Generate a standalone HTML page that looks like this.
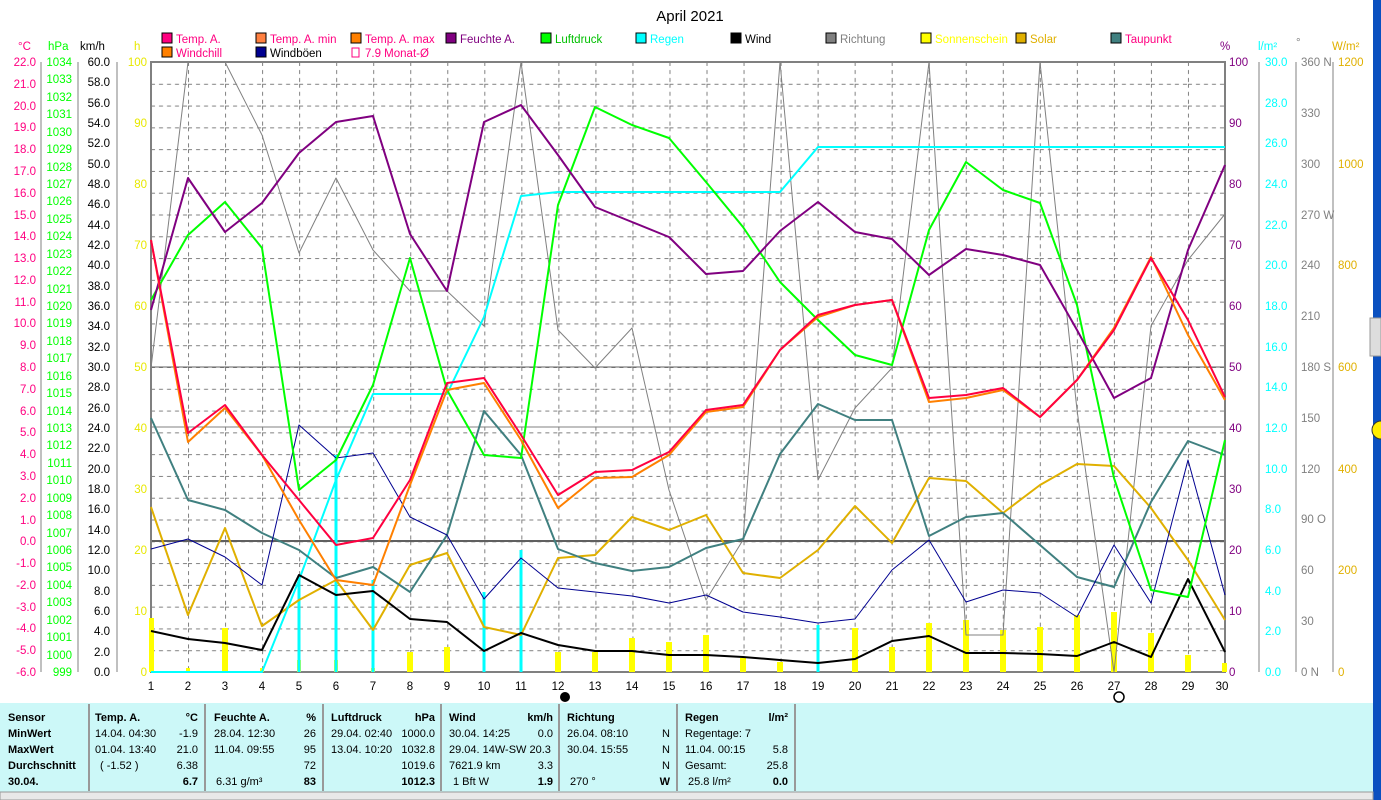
<!DOCTYPE html>
<html><head><meta charset="utf-8"><style>
body{margin:0;width:1381px;height:800px;overflow:hidden;background:#fff;font-family:"Liberation Sans",sans-serif}
svg{position:absolute;left:0;top:0}
</style></head><body>
<svg width="1381" height="800" viewBox="0 0 1381 800" font-family="Liberation Sans, sans-serif">
<defs>
<pattern id="g" patternUnits="userSpaceOnUse" x="151" y="62" width="37.034" height="21.786">
<line x1="0" y1="0.5" x2="37.034" y2="0.5" stroke="#808080" stroke-dasharray="4,4"/>
<line x1="0.5" y1="0" x2="0.5" y2="21.786" stroke="#808080" stroke-dasharray="4,4"/>
</pattern>
</defs>
<rect x="1373" y="0" width="8" height="800" fill="#0a50c0"/>
<rect x="1370" y="318" width="11" height="38" fill="#ddd" stroke="#999"/>
<circle cx="1381" cy="430" r="9" fill="#ffee00" stroke="#333"/>
<text x="690" y="21" font-size="15" text-anchor="middle">April 2021</text>
<!-- legend -->
<g font-size="11.5">
<rect x="162" y="33" width="10" height="10" fill="#ff0080" stroke="#000"/><text x="176" y="43" fill="#ff0080">Temp. A.</text>
<rect x="256" y="33" width="10" height="10" fill="#ff8040" stroke="#000"/><text x="270" y="43" fill="#ff0080">Temp. A. min</text>
<rect x="351" y="33" width="10" height="10" fill="#ff8000" stroke="#000"/><text x="365" y="43" fill="#ff0080">Temp. A. max</text>
<rect x="446" y="33" width="10" height="10" fill="#800080" stroke="#000"/><text x="460" y="43" fill="#800080">Feuchte A.</text>
<rect x="541" y="33" width="10" height="10" fill="#00ff00" stroke="#000"/><text x="555" y="43" fill="#00c000">Luftdruck</text>
<rect x="636" y="33" width="10" height="10" fill="#00ffff" stroke="#000"/><text x="650" y="43" fill="#00ffff">Regen</text>
<rect x="731" y="33" width="10" height="10" fill="#000" stroke="#000"/><text x="745" y="43" fill="#000">Wind</text>
<rect x="826" y="33" width="10" height="10" fill="#808080" stroke="#000"/><text x="840" y="43" fill="#808080">Richtung</text>
<rect x="921" y="33" width="10" height="10" fill="#ffff00" stroke="#000"/><text x="935" y="43" fill="#ffff00">Sonnenschein</text>
<rect x="1016" y="33" width="10" height="10" fill="#e0b000" stroke="#000"/><text x="1030" y="43" fill="#e0b000">Solar</text>
<rect x="1111" y="33" width="10" height="10" fill="#408080" stroke="#000"/><text x="1125" y="43" fill="#ff0080">Taupunkt</text>
<rect x="162" y="47" width="10" height="10" fill="#ff8000" stroke="#000"/><text x="176" y="57" fill="#ff0080">Windchill</text>
<rect x="256" y="47" width="10" height="10" fill="#000090" stroke="#000"/><text x="270" y="57" fill="#000">Windböen</text>
<rect x="352" y="48" width="7" height="9" fill="none" stroke="#ff0080"/><text x="365" y="57" fill="#ff0080">7.9 Monat-Ø</text>
</g>
<!-- units -->
<g font-size="11.5">
<text x="18" y="50" fill="#ff0080">°C</text><text x="48" y="50" fill="#00ff00">hPa</text><text x="80" y="50" fill="#000">km/h</text><text x="134" y="50" fill="#e8e800">h</text>
<text x="1220" y="50" fill="#800080">%</text><text x="1258" y="50" fill="#00ffff">l/m²</text><text x="1296" y="46" fill="#808080">°</text><text x="1332" y="50" fill="#e0b000">W/m²</text>
</g>
<!-- plot grid -->
<rect x="151" y="62" width="1074" height="610" fill="url(#g)"/>
<line x1="151" y1="541" x2="1225" y2="541" stroke="#606060" stroke-width="2"/>
<line x1="151" y1="367" x2="1225" y2="367" stroke="#606060"/>
<line x1="151" y1="427" x2="1225" y2="427" stroke="#808080"/>
<rect x="151" y="62" width="1074" height="610" fill="none" stroke="#808080" stroke-width="2"/>
<!-- axes lines -->
<g stroke="#808080" fill="none">
<line x1="41" y1="62" x2="41" y2="672"/><line x1="78" y1="62" x2="78" y2="672"/><line x1="117" y1="62" x2="117" y2="672"/>
<line x1="1259" y1="62" x2="1259" y2="672"/><line x1="1296" y1="62" x2="1296" y2="672"/><line x1="1333" y1="62" x2="1333" y2="672"/>
</g>
<!-- °C labels -->
<g font-size="11.5" fill="#ff0080" text-anchor="end">
<text x="36" y="66">22.0</text><text x="36" y="88">21.0</text><text x="36" y="110">20.0</text><text x="36" y="131">19.0</text><text x="36" y="153">18.0</text><text x="36" y="175">17.0</text><text x="36" y="197">16.0</text><text x="36" y="219">15.0</text><text x="36" y="240">14.0</text><text x="36" y="262">13.0</text><text x="36" y="284">12.0</text><text x="36" y="306">11.0</text><text x="36" y="327">10.0</text><text x="36" y="349">9.0</text><text x="36" y="371">8.0</text><text x="36" y="393">7.0</text><text x="36" y="415">6.0</text><text x="36" y="436">5.0</text><text x="36" y="458">4.0</text><text x="36" y="480">3.0</text><text x="36" y="502">2.0</text><text x="36" y="524">1.0</text><text x="36" y="545">0.0</text><text x="36" y="567">-1.0</text><text x="36" y="589">-2.0</text><text x="36" y="611">-3.0</text><text x="36" y="632">-4.0</text><text x="36" y="654">-5.0</text><text x="36" y="676">-6.0</text>
</g>
<!-- hPa labels -->
<g font-size="11.5" fill="#00ff00" text-anchor="end">
<text x="72" y="66">1034</text><text x="72" y="83">1033</text><text x="72" y="101">1032</text><text x="72" y="118">1031</text><text x="72" y="136">1030</text><text x="72" y="153">1029</text><text x="72" y="171">1028</text><text x="72" y="188">1027</text><text x="72" y="205">1026</text><text x="72" y="223">1025</text><text x="72" y="240">1024</text><text x="72" y="258">1023</text><text x="72" y="275">1022</text><text x="72" y="293">1021</text><text x="72" y="310">1020</text><text x="72" y="327">1019</text><text x="72" y="345">1018</text><text x="72" y="362">1017</text><text x="72" y="380">1016</text><text x="72" y="397">1015</text><text x="72" y="415">1014</text><text x="72" y="432">1013</text><text x="72" y="449">1012</text><text x="72" y="467">1011</text><text x="72" y="484">1010</text><text x="72" y="502">1009</text><text x="72" y="519">1008</text><text x="72" y="537">1007</text><text x="72" y="554">1006</text><text x="72" y="571">1005</text><text x="72" y="589">1004</text><text x="72" y="606">1003</text><text x="72" y="624">1002</text><text x="72" y="641">1001</text><text x="72" y="659">1000</text><text x="72" y="676">999</text>
</g>
<!-- km/h labels -->
<g font-size="11.5" fill="#000" text-anchor="end">
<text x="110" y="66">60.0</text><text x="110" y="86">58.0</text><text x="110" y="107">56.0</text><text x="110" y="127">54.0</text><text x="110" y="147">52.0</text><text x="110" y="168">50.0</text><text x="110" y="188">48.0</text><text x="110" y="208">46.0</text><text x="110" y="229">44.0</text><text x="110" y="249">42.0</text><text x="110" y="269">40.0</text><text x="110" y="290">38.0</text><text x="110" y="310">36.0</text><text x="110" y="330">34.0</text><text x="110" y="351">32.0</text><text x="110" y="371">30.0</text><text x="110" y="391">28.0</text><text x="110" y="412">26.0</text><text x="110" y="432">24.0</text><text x="110" y="452">22.0</text><text x="110" y="473">20.0</text><text x="110" y="493">18.0</text><text x="110" y="513">16.0</text><text x="110" y="534">14.0</text><text x="110" y="554">12.0</text><text x="110" y="574">10.0</text><text x="110" y="595">8.0</text><text x="110" y="615">6.0</text><text x="110" y="635">4.0</text><text x="110" y="656">2.0</text><text x="110" y="676">0.0</text>
</g>
<g font-size="11.5" fill="#e8e800" text-anchor="end">
<text x="147" y="66">100</text><text x="147" y="127">90</text><text x="147" y="188">80</text><text x="147" y="249">70</text><text x="147" y="310">60</text><text x="147" y="371">50</text><text x="147" y="432">40</text><text x="147" y="493">30</text><text x="147" y="554">20</text><text x="147" y="615">10</text><text x="147" y="676">0</text>
</g>
<!-- right labels -->
<g font-size="11.5" fill="#800080">
<text x="1229" y="66">100</text><text x="1229" y="127">90</text><text x="1229" y="188">80</text><text x="1229" y="249">70</text><text x="1229" y="310">60</text><text x="1229" y="371">50</text><text x="1229" y="432">40</text><text x="1229" y="493">30</text><text x="1229" y="554">20</text><text x="1229" y="615">10</text><text x="1229" y="676">0</text>
</g>
<g font-size="11.5" fill="#00ffff">
<text x="1265" y="66">30.0</text><text x="1265" y="107">28.0</text><text x="1265" y="147">26.0</text><text x="1265" y="188">24.0</text><text x="1265" y="229">22.0</text><text x="1265" y="269">20.0</text><text x="1265" y="310">18.0</text><text x="1265" y="351">16.0</text><text x="1265" y="391">14.0</text><text x="1265" y="432">12.0</text><text x="1265" y="473">10.0</text><text x="1265" y="513">8.0</text><text x="1265" y="554">6.0</text><text x="1265" y="595">4.0</text><text x="1265" y="635">2.0</text><text x="1265" y="676">0.0</text>
</g>
<g font-size="11.5" fill="#808080">
<text x="1301" y="66">360 N</text><text x="1301" y="117">330</text><text x="1301" y="168">300</text><text x="1301" y="219">270 W</text><text x="1301" y="269">240</text><text x="1301" y="320">210</text><text x="1301" y="371">180 S</text><text x="1301" y="422">150</text><text x="1301" y="473">120</text><text x="1301" y="523">90  O</text><text x="1301" y="574">60</text><text x="1301" y="625">30</text><text x="1301" y="676">0   N</text>
</g>
<g font-size="11.5" fill="#e0b000">
<text x="1338" y="66">1200</text><text x="1338" y="168">1000</text><text x="1338" y="269">800</text><text x="1338" y="371">600</text><text x="1338" y="473">400</text><text x="1338" y="574">200</text><text x="1338" y="676">0</text>
</g>
<!-- sunshine bars -->
<g fill="#ffff00">
<rect x="149" y="618" width="5" height="54"/><rect x="186" y="668" width="4" height="4"/><rect x="222" y="628" width="6" height="44"/><rect x="260" y="668" width="4" height="4"/><rect x="297" y="660" width="4" height="12"/><rect x="334" y="660" width="4" height="12"/><rect x="371" y="668" width="4" height="4"/><rect x="407" y="652" width="6" height="20"/><rect x="444" y="647" width="6" height="25"/><rect x="555" y="652" width="6" height="20"/><rect x="592" y="652" width="6" height="20"/><rect x="629" y="638" width="6" height="34"/><rect x="666" y="642" width="6" height="30"/><rect x="703" y="635" width="6" height="37"/><rect x="740" y="658" width="6" height="14"/><rect x="777" y="662" width="6" height="10"/><rect x="852" y="628" width="6" height="44"/><rect x="889" y="647" width="6" height="25"/><rect x="926" y="623" width="6" height="49"/><rect x="963" y="620" width="6" height="52"/><rect x="1000" y="630" width="6" height="42"/><rect x="1037" y="627" width="6" height="45"/><rect x="1074" y="615" width="6" height="57"/><rect x="1111" y="612" width="6" height="60"/><rect x="1148" y="633" width="6" height="39"/><rect x="1185" y="655" width="6" height="17"/><rect x="1222" y="663" width="5" height="9"/>
</g>
<!-- rain daily bars -->
<g stroke="#00ffff" stroke-width="3">
<line x1="299" y1="672" x2="299" y2="575"/><line x1="336" y1="672" x2="336" y2="455"/><line x1="373" y1="672" x2="373" y2="580"/><line x1="484" y1="672" x2="484" y2="592"/><line x1="521" y1="672" x2="521" y2="550"/><line x1="818" y1="672" x2="818" y2="625"/>
</g>
<g fill="none" stroke-linejoin="round">
<polyline stroke="#808080" stroke-width="1" points="151,368 188,62 225,62 262,135 299,253 336,178 373,250 410,291 447,291 484,326 521,62 558,330 595,368 632,328 669,490 706,600 743,540 780,62 818,480 855,408 892,368 929,62 966,635 1003,635 1040,62 1077,410 1114,672 1151,326 1188,260 1225,214"/>
<polyline stroke="#e0b000" stroke-width="2" points="151,507 188,615 225,528 262,626 299,600 336,580 373,630 410,565 447,553 484,627 521,635 558,558 595,555 632,517 669,530 706,515 743,573 780,578 818,550 855,506 892,543 929,478 966,481 1003,513 1040,485 1077,464 1114,466 1151,508 1188,560 1225,620"/>
<polyline stroke="#00ffff" stroke-width="2" points="151,672 262,672 299,580 336,480 373,394 447,394 484,317 521,196 558,192 780,192 818,147 1225,147"/>
<polyline stroke="#408080" stroke-width="2" points="151,418 188,500 225,510 262,533 299,550 336,578 373,567 410,592 447,535 484,411 521,455 558,549 595,563 632,571 669,567 706,548 743,539 780,454 818,404 855,420 892,420 929,536 966,517 1003,513 1040,545 1077,577 1114,587 1151,502 1188,441 1225,455"/>
<polyline stroke="#000090" stroke-width="1" points="151,549 188,539 225,557 262,585 299,425 336,458 373,453 410,517 447,535 484,599 521,558 558,588 595,592 632,596 669,603 706,595 743,612 780,617 818,623 855,619 892,570 929,540 966,602 1003,590 1040,593 1077,617 1114,545 1151,603 1188,460 1225,595"/>
<polyline stroke="#000" stroke-width="2" points="151,631 188,639 225,643 262,650 299,575 336,595 373,591 410,619 447,622 484,651 521,633 558,645 595,651 632,651 669,655 706,655 743,657 780,660 818,663 855,659 892,641 929,636 966,653 1003,653 1040,654 1077,656 1114,642 1151,657 1188,579 1225,652"/>
<polyline stroke="#00ff00" stroke-width="2" points="151,300 188,235 225,202 262,248 299,490 336,460 373,385 410,258 447,390 484,455 521,458 558,205 595,107 632,125 669,138 706,182 743,227 780,282 818,320 855,355 892,365 929,230 966,162 1003,190 1040,203 1077,305 1114,478 1151,590 1188,597 1225,440"/>
<polyline stroke="#800080" stroke-width="2" points="151,310 188,178 225,232 262,203 299,153 336,122 373,116 410,234 447,291 484,122 521,105 558,155 595,207 632,222 669,237 706,274 743,271 780,231 818,202 855,232 892,239 929,275 966,249 1003,255 1040,265 1077,330 1114,398 1151,378 1188,250 1225,165"/>
<polyline stroke="#ff8000" stroke-width="2" points="151,240 188,442 225,408 262,455 299,520 336,580 373,585 410,485 447,390 484,383 521,440 558,508 595,478 632,477 669,455 706,412 743,407 780,350 818,317 855,305 892,300 929,402 966,398 1003,390 1040,417 1077,380 1114,328 1151,257 1188,335 1225,400"/>
<polyline stroke="#ff0040" stroke-width="2" points="151,240 188,433 225,405 262,455 299,500 336,545 373,538 410,480 447,383 484,378 521,435 558,495 595,472 632,470 669,452 706,410 743,405 780,350 818,315 855,305 892,300 929,398 966,395 1003,388 1040,417 1077,380 1114,330 1151,258 1188,320 1225,397"/>
</g>
<!-- day labels -->
<g font-size="11.5" text-anchor="middle" fill="#000">
<text x="151" y="690">1</text><text x="188" y="690">2</text><text x="225" y="690">3</text><text x="262" y="690">4</text><text x="299" y="690">5</text><text x="336" y="690">6</text><text x="373" y="690">7</text><text x="410" y="690">8</text><text x="447" y="690">9</text><text x="484" y="690">10</text><text x="521" y="690">11</text><text x="558" y="690">12</text><text x="595" y="690">13</text><text x="632" y="690">14</text><text x="669" y="690">15</text><text x="706" y="690">16</text><text x="743" y="690">17</text><text x="780" y="690">18</text><text x="818" y="690">19</text><text x="855" y="690">20</text><text x="892" y="690">21</text><text x="929" y="690">22</text><text x="966" y="690">23</text><text x="1003" y="690">24</text><text x="1040" y="690">25</text><text x="1077" y="690">26</text><text x="1114" y="690">27</text><text x="1151" y="690">28</text><text x="1188" y="690">29</text><text x="1222" y="690">30</text>
</g>
<circle cx="565" cy="697" r="5" fill="#000"/>
<circle cx="1119" cy="697" r="5" fill="none" stroke="#000" stroke-width="1.5"/>
<!-- table -->
<rect x="0" y="703" width="1373" height="89" fill="#ccf8f8"/>
<rect x="0" y="792" width="1373" height="8" fill="#e8e8e8" stroke="#999"/>
<g stroke="#999" stroke-width="2">
<line x1="89" y1="704" x2="89" y2="791"/><line x1="205" y1="704" x2="205" y2="791"/><line x1="323" y1="704" x2="323" y2="791"/><line x1="441" y1="704" x2="441" y2="791"/><line x1="559" y1="704" x2="559" y2="791"/><line x1="677" y1="704" x2="677" y2="791"/><line x1="795" y1="704" x2="795" y2="791"/>
</g>
<g font-size="11" fill="#000">
<text x="8" y="721" font-weight="bold">Sensor</text><text x="8" y="737" font-weight="bold">MinWert</text><text x="8" y="753" font-weight="bold">MaxWert</text><text x="8" y="769" font-weight="bold">Durchschnitt</text><text x="8" y="785" font-weight="bold">30.04.</text>
<text x="95" y="721" font-weight="bold">Temp. A.</text><text x="198" y="721" text-anchor="end" font-weight="bold">°C</text>
<text x="95" y="737">14.04.  04:30</text><text x="198" y="737" text-anchor="end">-1.9</text>
<text x="95" y="753">01.04.  13:40</text><text x="198" y="753" text-anchor="end">21.0</text>
<text x="100" y="769">( -1.52 )</text><text x="198" y="769" text-anchor="end">6.38</text>
<text x="198" y="785" text-anchor="end" font-weight="bold">6.7</text>
<text x="214" y="721" font-weight="bold">Feuchte A.</text><text x="316" y="721" text-anchor="end" font-weight="bold">%</text>
<text x="214" y="737">28.04.  12:30</text><text x="316" y="737" text-anchor="end">26</text>
<text x="214" y="753">11.04.  09:55</text><text x="316" y="753" text-anchor="end">95</text>
<text x="316" y="769" text-anchor="end">72</text>
<text x="216" y="785">6.31 g/m³</text><text x="316" y="785" text-anchor="end" font-weight="bold">83</text>
<text x="331" y="721" font-weight="bold">Luftdruck</text><text x="435" y="721" text-anchor="end" font-weight="bold">hPa</text>
<text x="331" y="737">29.04.  02:40</text><text x="435" y="737" text-anchor="end">1000.0</text>
<text x="331" y="753">13.04.  10:20</text><text x="435" y="753" text-anchor="end">1032.8</text>
<text x="435" y="769" text-anchor="end">1019.6</text>
<text x="435" y="785" text-anchor="end" font-weight="bold">1012.3</text>
<text x="449" y="721" font-weight="bold">Wind</text><text x="553" y="721" text-anchor="end" font-weight="bold">km/h</text>
<text x="449" y="737">30.04.  14:25</text><text x="553" y="737" text-anchor="end">0.0</text>
<text x="449" y="753">29.04.  14W-SW 20.3</text>
<text x="449" y="769">7621.9 km</text><text x="553" y="769" text-anchor="end">3.3</text>
<text x="453" y="785">1 Bft W</text><text x="553" y="785" text-anchor="end" font-weight="bold">1.9</text>
<text x="567" y="721" font-weight="bold">Richtung</text>
<text x="567" y="737">26.04.  08:10</text><text x="670" y="737" text-anchor="end">N</text>
<text x="567" y="753">30.04.  15:55</text><text x="670" y="753" text-anchor="end">N</text>
<text x="670" y="769" text-anchor="end">N</text>
<text x="570" y="785">270 °</text><text x="670" y="785" text-anchor="end" font-weight="bold">W</text>
<text x="685" y="721" font-weight="bold">Regen</text><text x="788" y="721" text-anchor="end" font-weight="bold">l/m²</text>
<text x="685" y="737">Regentage: 7</text>
<text x="685" y="753">11.04.  00:15</text><text x="788" y="753" text-anchor="end">5.8</text>
<text x="685" y="769">Gesamt:</text><text x="788" y="769" text-anchor="end">25.8</text>
<text x="688" y="785">25.8 l/m²</text><text x="788" y="785" text-anchor="end" font-weight="bold">0.0</text>
</g>
</svg>
</body></html>
